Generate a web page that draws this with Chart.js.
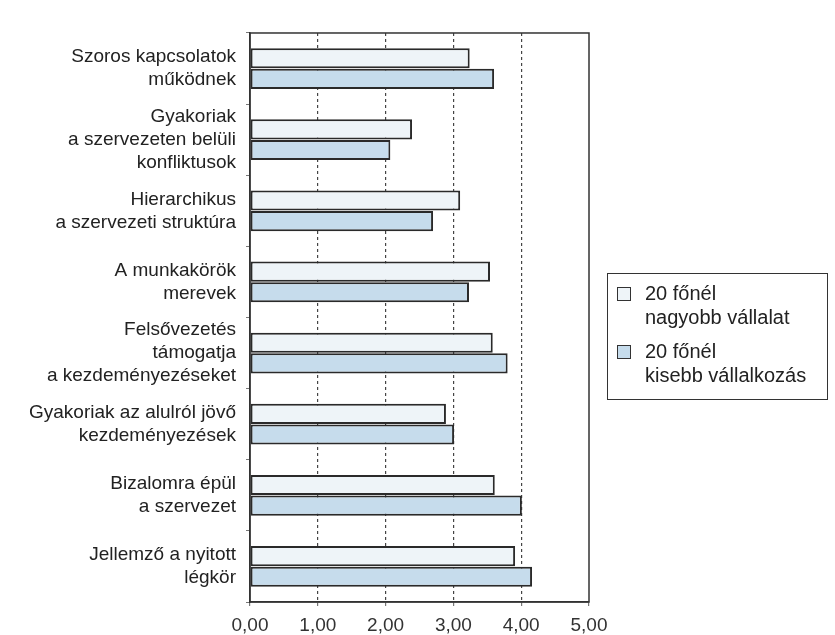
<!DOCTYPE html>
<html>
<head>
<meta charset="utf-8">
<title>Szervezeti jellemzők</title>
<script src="https://cdn.jsdelivr.net/npm/chart.js@4.4.0/dist/chart.umd.min.js"></script>
<style>
  body { margin: 0; background: #fff; }
  .chart-wrapper { position: relative; width: 835px; height: 635px; }
  #legend {
    position: absolute; left: 607px; top: 273px; width: 221px; height: 127px;
    border: 1.5px solid #333; font-family: "Liberation Sans", Arial, sans-serif;
    font-size: 20px; color: #222; line-height: 24px; box-sizing: border-box;
    padding: 7px 0 0 9px;
  }
  #legend .item { position: relative; padding-left: 28px; margin-bottom: 10px; }
  #legend .box {
    position: absolute; left: 0; top: 6px; width: 12px; height: 12px;
    border: 1.5px solid #333;
  }
</style>
</head>
<body>

<div class="chart-wrapper">
  <canvas id="myChart"></canvas>
  <div id="legend"></div>
</div>

<script>
  // categories (multi-line labels)
  const categories = [
    ["Szoros kapcsolatok", "működnek"],
    ["Gyakoriak", "a szervezeten belüli", "konfliktusok"],
    ["Hierarchikus", "a szervezeti struktúra"],
    ["A munkakörök", "merevek"],
    ["Felsővezetés", "támogatja", "a kezdeményezéseket"],
    ["Gyakoriak az alulról jövő", "kezdeményezések"],
    ["Bizalomra épül", "a szervezet"],
    ["Jellemző a nyitott", "légkör"]
  ];

  const seriesNames = [
    ["20 főnél", "nagyobb vállalat"],
    ["20 főnél", "kisebb vállalkozás"]
  ];

  const nagyobb = [3.24, 2.39, 3.10, 3.54, 3.58, 2.89, 3.61, 3.91];
  const kisebb = [3.60, 2.07, 2.70, 3.23, 3.80, 3.01, 4.01, 4.16];

  const xMin = 0;
  const xMax = 5;
  const xStep = 1;

  const colors = ['#eef4f8', '#c6dcec'];
  const font = "'Liberation Sans', Arial, sans-serif";

  // frame around plot area (top and right sides)
  const frame = {
    id: 'frame',
    afterDatasetsDraw(chart) {
      const a = chart.chartArea;
      const c = chart.ctx;
      c.save();
      c.strokeStyle = '#333';
      c.lineWidth = 1.5;
      c.strokeRect(a.left, a.top, a.right - a.left, a.bottom - a.top);
      c.restore();
    }
  };

  const ctx = document.getElementById("myChart");

  const myChart = new Chart(ctx, {
    type: "bar",
    data: {
      labels: categories,
      datasets: [
        { label: seriesNames[0].join(' '), data: nagyobb,
          backgroundColor: colors[0], borderColor: '#2a2a2a', borderWidth: 2, borderSkipped: false,
          categoryPercentage: 0.58, barPercentage: 0.98 },
        { label: seriesNames[1].join(' '), data: kisebb,
          backgroundColor: colors[1], borderColor: '#2a2a2a', borderWidth: 2, borderSkipped: false,
          categoryPercentage: 0.58, barPercentage: 0.98 }
      ]
    },
    options: {
      indexAxis: 'y',
      responsive: true,
      maintainAspectRatio: false,
      animation: false,
      layout: { padding: { top: 13, right: 246, left: 0, bottom: 0 } },
      plugins: {
        legend: { display: false },
        tooltip: { enabled: false }
      },
      scales: {
        x: {
          min: xMin, max: xMax,
          afterFit(scale) { scale.height = 33; },
          ticks: {
            stepSize: xStep,
            color: '#333',
            font: { family: font, size: 19 },
            padding: 8,
            maxRotation: 0,
            callback: (v) => v.toFixed(2).replace('.', ',')
          },
          grid: {
            color: (c) => (c.tick && c.tick.value > xMin && c.tick.value < xMax) ? '#444' : 'rgba(0,0,0,0)',
            lineWidth: 1.2,
            tickColor: '#777',
            tickLength: 4,
            tickBorderDash: []
          },
          border: { display: true, color: '#333', width: 1.5, dash: [3, 3] }
        },
        y: {
          afterFit(scale) { scale.width = 250; },
          ticks: {
            autoSkip: false,
            color: '#222',
            font: { family: font, size: 19, lineHeight: 1.21 },
            padding: 10
          },
          grid: {
            drawOnChartArea: false,
            color: '#777',
            tickLength: 4
          },
          border: { display: true, color: '#333', width: 1.5 }
        }
      }
    },
    plugins: [frame]
  });

  // HTML legend with two-line labels
  const legend = document.getElementById('legend');
  seriesNames.forEach((name, i) => {
    const item = document.createElement('div');
    item.className = 'item';
    item.innerHTML = '<span class="box" style="background:' + colors[i] + '"></span>' + name.join('<br>');
    legend.appendChild(item);
  });
</script>

</body>
</html>
